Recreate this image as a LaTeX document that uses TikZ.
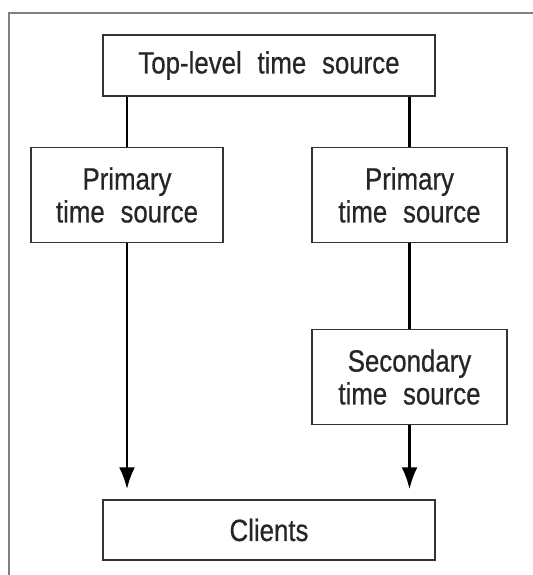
\documentclass[tikz,border=0pt]{standalone}
\usepackage{fontspec}
\setmainfont{Liberation Sans}[FakeStretch=0.84,WordSpace=2.2,FakeBold=0.6]
\usepackage{tikz}
\usetikzlibrary{arrows.meta,positioning}

\begin{document}
\begin{tikzpicture}[x=0.02cm,y=-0.02cm,>={Latex[length=0.44cm,width=0.32cm]},
  box/.style={draw=black!80,line width=0.8pt,align=center,inner sep=2pt,
    text=black!85,font=\fontsize{17.5}{18.7}\selectfont},
  link/.style={line width=1.6pt}]
\useasboundingbox (0,0) rectangle (533,575);
\draw[black!50,line width=1.3pt] (533,13) -- (9,13) -- (9,575);
\node[box,minimum width=6.64cm,minimum height=1.22cm] (top) at (269,65.5) {Top-level time source};
\node[box,minimum width=3.84cm,minimum height=1.9cm] (pa) at (127,195) {Primary\\time source};
\node[box,minimum width=3.9cm,minimum height=1.9cm] (pb) at (409.5,195) {Primary\\time source};
\node[box,minimum width=3.9cm,minimum height=1.9cm] (sb) at (409.5,377) {Secondary\\time source};
\node[box,minimum width=6.64cm,minimum height=1.2cm] (cl) at (269,530) {Clients};
\draw[link] (top.south -| pa.north) -- (pa.north);
\draw[link,->,shorten >=0.2cm] (pa.south) -- (pa.south |- cl.north);
\draw[link] (top.south -| pb.north) -- (pb.north);
\draw[link] (pb.south) -- (sb.north);
\draw[link,->,shorten >=0.2cm] (sb.south) -- (sb.south |- cl.north);
\end{tikzpicture}
\end{document}
